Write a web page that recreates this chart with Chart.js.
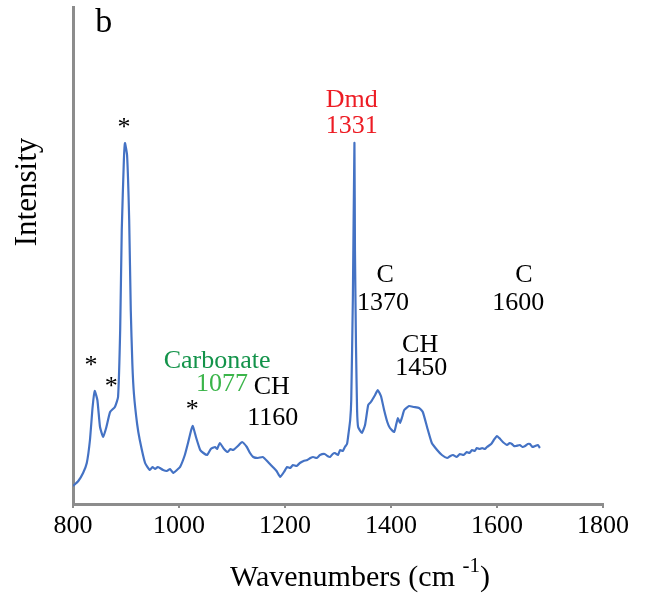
<!DOCTYPE html>
<html>
<head>
<meta charset="utf-8">
<script src="https://cdn.jsdelivr.net/npm/chart.js@4.4.0/dist/chart.umd.min.js"></script>
<style>
  html, body { margin: 0; padding: 0; background: #fff; }
  #wrap { width: 655px; height: 603px; position: relative; }
</style>
</head>
<body>
<div id="wrap"><canvas id="ramanChart"></canvas></div>
<script>
// ----------- spectrum values -----------
const wavenumbers = [
  800, 810, 819, 826, 832, 837, 841, 846, 851, 857, 863, 870, 879, 885,
  889, 892, 896, 898, 902, 906, 909, 912, 915, 921, 926, 936, 945, 950, 955,
  960, 964, 970, 977, 983, 989, 996, 1002, 1011, 1017, 1023, 1026, 1032,
  1040, 1046, 1053, 1060, 1068, 1072, 1077, 1085, 1092, 1097, 1102, 1111, 1119,
  1128, 1134, 1140, 1149, 1158, 1168, 1177, 1184, 1191, 1198, 1204, 1210,
  1215, 1222, 1228, 1235, 1242, 1248, 1253, 1260, 1266, 1275, 1280, 1285,
  1290, 1294, 1300, 1304, 1309, 1313, 1317, 1319, 1323, 1325, 1328, 1331,
  1332, 1334, 1336, 1338, 1345, 1351, 1357, 1362, 1370, 1375, 1381, 1387,
  1393, 1398, 1406, 1410, 1413, 1417, 1421, 1425, 1434, 1443, 1453, 1460,
  1468, 1477, 1487, 1496, 1506, 1512, 1517, 1524, 1530, 1537, 1543, 1548,
  1553, 1558, 1562, 1567, 1572, 1577, 1581, 1589, 1594, 1600, 1606, 1611,
  1619, 1624, 1628, 1632, 1636, 1643, 1648, 1653, 1658, 1662, 1667, 1672,
  1677, 1681
];
const intensity = [
  18, 23, 31, 41, 64, 97, 113, 104, 77, 67, 77, 92, 97, 107,
  174, 274, 344, 361, 349, 284, 194, 140, 110, 80, 64, 41, 34, 37, 35,
  37, 36, 34, 33, 35, 31, 34, 37, 49, 61, 74, 78, 67,
  54, 51, 49, 55, 57, 55, 61, 55, 52, 55, 54, 58, 62,
  57, 51, 47, 46, 47, 42, 37, 33, 27, 32, 37, 36,
  39, 38, 41, 43, 44, 46, 47, 46, 49, 50, 48, 47,
  50, 51, 49, 54, 53, 57, 60, 67, 84, 104, 204, 361,
  254, 157, 94, 77, 71, 79, 99, 102, 109, 114, 108, 94,
  82, 76, 72, 80, 86, 81, 87, 94, 98, 97, 96, 92,
  77, 61, 54, 49, 46, 48, 49, 47, 50, 49, 52, 51,
  54, 53, 56, 55, 56, 55, 57, 60, 64, 68, 65, 62,
  59, 61, 60, 58, 58, 59, 57, 58, 60, 60, 57, 58,
  59, 56
];
const xTicks = [800, 1000, 1200, 1400, 1600, 1800];

// ----------- peak annotations -----------
const noteTexts = ["*", "*", "*", "*", "Carbonate", "1077", "CH", "1160",
  "Dmd", "1331", "C", "1370", "CH", "1450", "C", "1600", "b"];
const noteX = [896, 834, 872, 1025, 1072, 1081, 1175, 1177,
  1326, 1326, 1389, 1385, 1455, 1457, 1651, 1640, 858];
const noteY = [376, 138, 117, 94, 143, 120, 117, 86,
  404, 378, 229, 201, 159, 136, 229, 201, 481];
const noteColors = ["#000", "#000", "#000", "#000", "#13934a", "#3bb54a", "#000", "#000",
  "#ed1c24", "#ed1c24", "#000", "#000", "#000", "#000", "#000", "#000", "#000"];

const serif = "'Liberation Serif', 'Times New Roman', serif";
const axisGray = "#8c8c8c";

const notesPlugin = {
  id: "notes",
  afterDatasetsDraw(chart) {
    const { ctx, scales } = chart;
    ctx.save();
    ctx.textAlign = "center";
    ctx.textBaseline = "middle";
    noteTexts.forEach((t, i) => {
      ctx.fillStyle = noteColors[i];
      ctx.font = (t === "b" ? "34px " : "26px ") + serif;
      ctx.fillText(t, scales.x.getPixelForValue(noteX[i]), scales.y.getPixelForValue(noteY[i]));
    });

    // axis titles
    ctx.fillStyle = "#000";
    const main = "Wavenumbers (cm ";
    const sup = "-1";
    const tail = ")";
    ctx.font = "30px " + serif;
    const wMain = ctx.measureText(main).width;
    const wTail = ctx.measureText(tail).width;
    ctx.font = "21px " + serif;
    const wSup = ctx.measureText(sup).width;
    let x0 = 360 - (wMain + wSup + wTail) / 2;
    ctx.textAlign = "left";
    ctx.textBaseline = "alphabetic";
    ctx.font = "30px " + serif;
    ctx.fillText(main, x0, 586);
    ctx.font = "21px " + serif;
    ctx.fillText(sup, x0 + wMain, 572);
    ctx.font = "30px " + serif;
    ctx.fillText(tail, x0 + wMain + wSup, 586);

    ctx.translate(28, 192);
    ctx.rotate(-Math.PI / 2);
    ctx.textAlign = "center";
    ctx.textBaseline = "middle";
    ctx.font = "31px " + serif;
    ctx.fillText("Intensity", 0, 0);
    ctx.restore();
  }
};

const ctx = document.getElementById("ramanChart").getContext("2d");
new Chart(ctx, {
  type: "line",
  data: {
    datasets: [
      {
        data: wavenumbers.map((w, i) => ({ x: w, y: intensity[i] })),
        borderColor: "#4472c4",
        borderWidth: 2.2,
        pointRadius: 0,
        tension: 0.15,
        fill: false,
      },
    ],
  },
  options: {
    responsive: true,
    maintainAspectRatio: false,
    animation: false,
    layout: { padding: { top: 7, right: 52, left: 0, bottom: 0 } },
    plugins: { legend: { display: false }, tooltip: { enabled: false } },
    scales: {
      x: {
        type: "linear",
        min: 800,
        max: 1800,
        afterBuildTicks: (s) => { s.ticks = xTicks.map((v) => ({ value: v })); },
        afterFit: (s) => { s.height = 99; },
        grid: { display: true, drawOnChartArea: false, drawTicks: true, tickLength: 4, color: axisGray, lineWidth: 2 },
        border: { display: true, color: axisGray, width: 3 },
        ticks: {
          color: "#000",
          font: { family: serif, size: 26 },
          padding: 3,
          maxRotation: 0,
          callback: (v) => String(v),
        },
      },
      y: {
        min: 0,
        max: 497,
        afterFit: (s) => { s.width = 73; },
        grid: { display: false },
        border: { display: true, color: axisGray, width: 3 },
        ticks: { display: false },
      },
    },
  },
  plugins: [notesPlugin],
});
</script>
</body>
</html>
